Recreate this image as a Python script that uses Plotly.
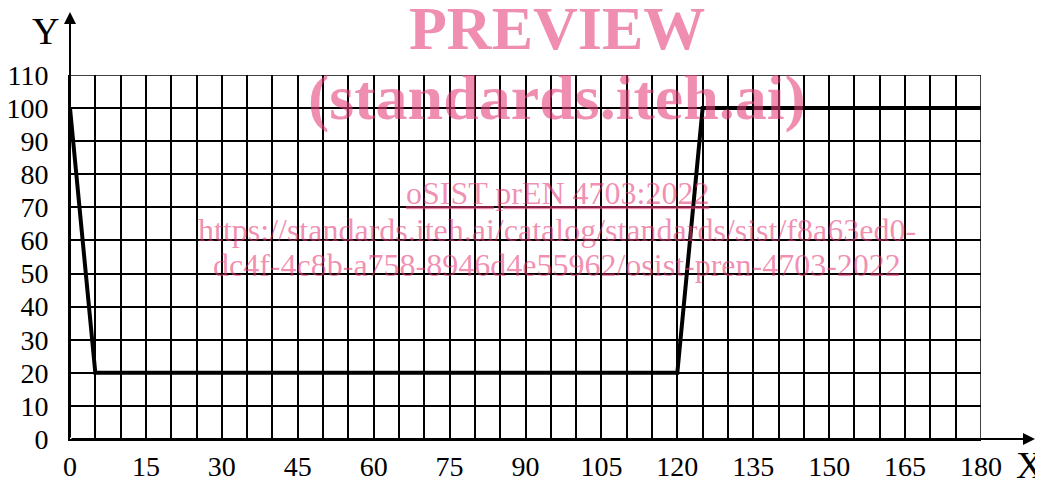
import plotly.graph_objects as go

# Data
x_vals = [0, 5, 120, 125, 180]
y_vals = [100, 20, 20, 100, 100]
x_ticks = list(range(0, 181, 15))
y_ticks = list(range(0, 111, 10))

# page body has an 8px margin; compensate so the plot lands where the reference has it
OFF = 8
L, T = 70 - OFF, 75 - OFF
R, B = 1043 - (981 - OFF), 482 - (439 - OFF)

fig = go.Figure()
fig.add_trace(go.Scatter(x=x_vals, y=y_vals, mode="lines",
                         line=dict(color="black", width=4), hoverinfo="skip"))

font_tick = dict(family="Liberation Serif, DejaVu Serif, serif", size=28, color="black")

fig.update_xaxes(range=[0, 180], tickvals=x_ticks, showgrid=True, gridcolor="black",
                 gridwidth=1.5, minor=dict(dtick=5, showgrid=True, gridcolor="black", gridwidth=1.5),
                 showline=True, linecolor="black", linewidth=2, zeroline=False,
                 ticks="", ticklabelstandoff=1, tickfont=font_tick, fixedrange=True)
fig.update_yaxes(range=[0, 110], tickvals=y_ticks, showgrid=True, gridcolor="black",
                 gridwidth=1.5, showline=True, linecolor="black", linewidth=2, zeroline=False,
                 ticks="", ticklabelstandoff=14, tickfont=font_tick, fixedrange=True)

# border lines at top and right
fig.add_shape(type="line", xref="x", yref="y", x0=0, x1=180, y0=110, y1=110,
              line=dict(color="black", width=1.5))
fig.add_shape(type="line", xref="x", yref="y", x0=180, x1=180, y0=0, y1=110,
              line=dict(color="black", width=1.5))

def px(xp, yp):
    # absolute reference pixel -> paper coordinates
    return (xp - 70) / 911, (439 - yp) / 364

# Axis arrows (tail offsets in pixels)
ax_tip = px(1035, 439)
fig.add_annotation(xref="paper", yref="paper", x=ax_tip[0], y=0, ax=-(1035 - 70), ay=0,
                   showarrow=True, arrowhead=2, arrowsize=1.2, arrowwidth=2,
                   arrowcolor="black", text="")
ay_tip = px(70, 12)
fig.add_annotation(xref="paper", yref="paper", x=0, y=ay_tip[1], ax=0, ay=(439 - 12),
                   showarrow=True, arrowhead=2, arrowsize=1.2, arrowwidth=2,
                   arrowcolor="black", text="")

def label(text, xp, yp, size, color, bold=False):
    xx, yy = px(xp, yp)
    fig.add_annotation(xref="paper", yref="paper", x=xx, y=yy,
                       xanchor="center", yanchor="middle",
                       text=(f"<b>{text}</b>" if bold else text), showarrow=False,
                       font=dict(family="Liberation Serif, serif", size=size, color=color))

label("X", 1029, 465, 38, "black")
label("Y", 45, 31, 38, "black")

# Watermark
pink = "rgba(230,60,120,0.58)"
label("PREVIEW", 557, 28, 62, pink, bold=True)
label("(standards.iteh.ai)", 557, 97, 64, pink, bold=True)
label("<u>oSIST prEN 4703:2022</u>", 557, 193, 32, pink)
label("https://standards.iteh.ai/catalog/standards/sist/f8a63ed0-", 557, 230, 32, pink)
label("dc4f-4c8b-a758-8946d4e55962/osist-pren-4703-2022", 557, 265, 32, pink)

fig.update_layout(width=1043, height=482,
                  margin=dict(l=L, r=R, t=T, b=B, autoexpand=False),
                  paper_bgcolor="white", plot_bgcolor="white", showlegend=False)

fig.write_html("out.html")
